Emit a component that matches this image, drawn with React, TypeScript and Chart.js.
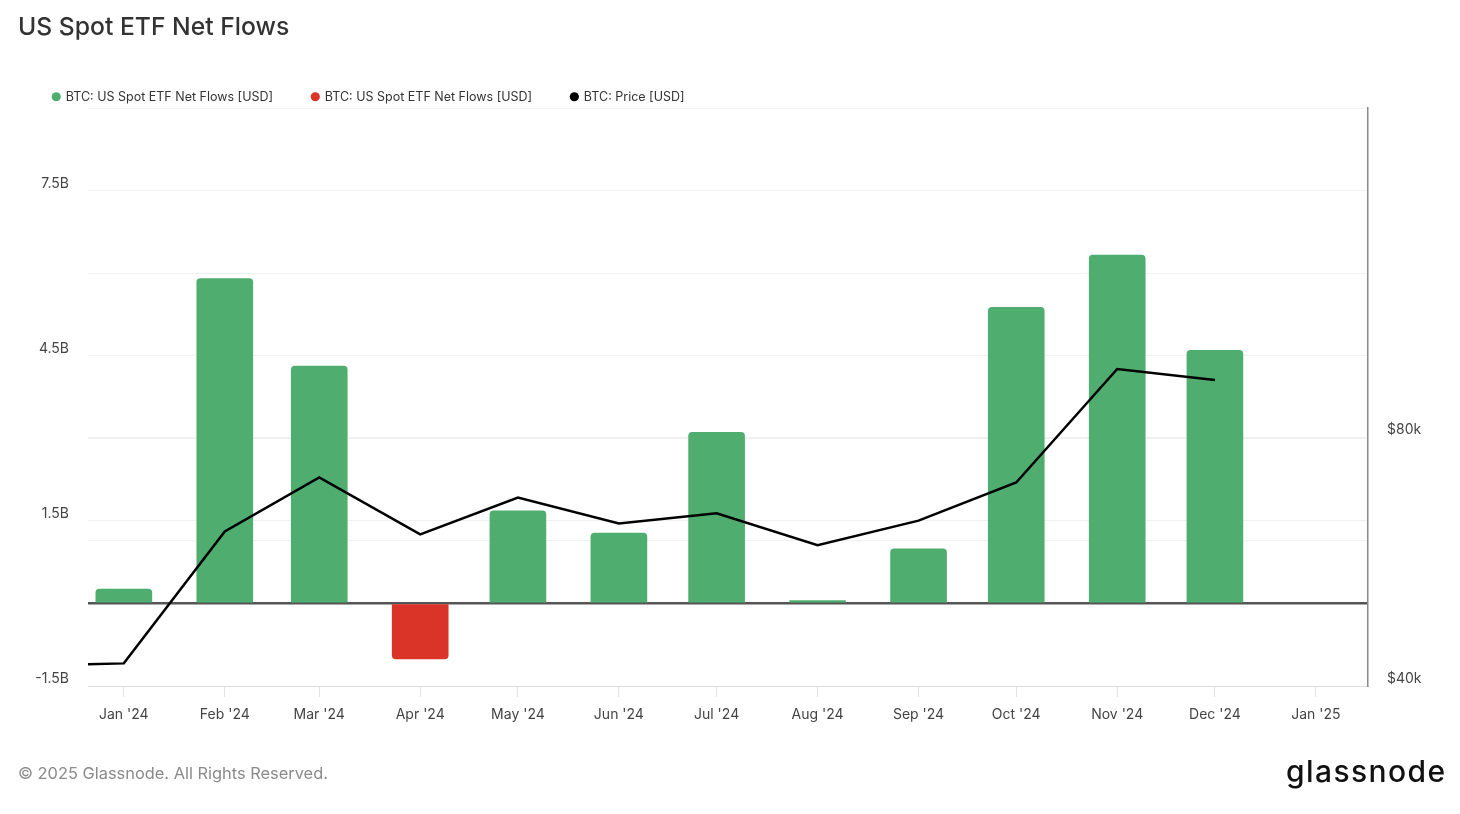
import React, { useEffect, useRef } from 'react';
import { Chart, registerables } from 'chart.js';

Chart.register(...registerables);

const FONT = 'Inter, "Noto Sans", "DejaVu Sans", sans-serif';
const GREEN = '#4fae6f';
const RED = '#d93427';

// Monthly net flows (billions USD), one bar per month
const flowMonths = [
  '2024-01-01', '2024-02-01', '2024-03-01', '2024-04-01', '2024-05-01', '2024-06-01',
  '2024-07-01', '2024-08-01', '2024-09-01', '2024-10-01', '2024-11-01', '2024-12-01',
];
const netFlowsB = [0.26, 5.9, 4.31, -1.01, 1.68, 1.28, 3.11, 0.05, 0.99, 5.38, 6.33, 4.6];

// BTC price (USD), monthly
const priceMonths = [
  '2023-12-01', '2024-01-01', '2024-02-01', '2024-03-01', '2024-04-01', '2024-05-01', '2024-06-01',
  '2024-07-01', '2024-08-01', '2024-09-01', '2024-10-01', '2024-11-01', '2024-12-01',
];
const priceUSD = [42300, 42600, 61500, 71500, 61000, 67600, 62900, 64700, 59200, 63400, 70500, 96700, 93800];

// X axis ticks
const tickDates = [
  '2024-01-01', '2024-02-01', '2024-03-01', '2024-04-01', '2024-05-01', '2024-06-01', '2024-07-01',
  '2024-08-01', '2024-09-01', '2024-10-01', '2024-11-01', '2024-12-01', '2025-01-01',
];
const tickLabels = [
  "Jan '24", "Feb '24", "Mar '24", "Apr '24", "May '24", "Jun '24", "Jul '24",
  "Aug '24", "Sep '24", "Oct '24", "Nov '24", "Dec '24", "Jan '25",
];
const xRange = ['2023-12-21', '2025-01-17'];

// Right (price) axis ticks
const priceTicks = [40000, 60000, 80000];
const priceTickLabels = ['$40k', '', '$80k'];

const flowLabel = 'BTC: US Spot ETF Net Flows [USD]';
const priceLabel = 'BTC: Price [USD]';

function dayIndex(iso: string): number {
  const [y, m, d] = iso.split('-').map(Number);
  return (Date.UTC(y, m - 1, d) - Date.UTC(2024, 0, 1)) / 86400000;
}

function fmtB(v: number): string {
  return `${Math.round((v / 1e9) * 10) / 10}B`;
}

export default function App() {
  const ref = useRef<HTMLCanvasElement>(null);

  useEffect(() => {
    document.body.style.margin = '0';
    document.body.style.overflow = 'hidden';
    if (!ref.current) return;

    const greenData = flowMonths
      .map((m, i) => ({ x: dayIndex(m), y: netFlowsB[i] * 1e9 }))
      .filter((p) => p.y >= 0);
    const redData = flowMonths
      .map((m, i) => ({ x: dayIndex(m), y: netFlowsB[i] * 1e9 }))
      .filter((p) => p.y < 0);
    const priceData = priceMonths.map((m, i) => ({ x: dayIndex(m), y: priceUSD[i] }));
    const tickDays = tickDates.map(dayIndex);

    const chart = new Chart(ref.current, {
      type: 'bar',
      data: {
        datasets: [
          {
            type: 'bar',
            label: flowLabel,
            data: greenData,
            backgroundColor: GREEN,
            borderWidth: 0,
            borderRadius: 4,
            barThickness: 56,
            grouped: false,
            yAxisID: 'y',
            xAxisID: 'x',
            order: 1,
          },
          {
            type: 'bar',
            label: flowLabel,
            data: redData,
            backgroundColor: RED,
            borderWidth: 0,
            borderRadius: 4,
            barThickness: 56,
            grouped: false,
            yAxisID: 'y',
            xAxisID: 'x',
            order: 1,
          },
          {
            type: 'line',
            label: priceLabel,
            data: priceData,
            borderColor: '#000000',
            backgroundColor: '#000000',
            borderWidth: 2.5,
            pointRadius: 0,
            tension: 0,
            yAxisID: 'y1',
            xAxisID: 'x',
            order: 0,
          },
        ],
      } as any,
      options: {
        animation: false,
        responsive: false,
        maintainAspectRatio: false,
        layout: { padding: { top: 51.5, left: 14, right: 0, bottom: 88 } },
        plugins: {
          legend: {
            position: 'top',
            align: 'start',
            maxHeight: 56.5,
            onClick: () => {},
            labels: {
              usePointStyle: true,
              pointStyle: 'circle',
              boxWidth: 6.5,
              boxHeight: 6.5,
              padding: 39,
              color: '#333333',
              font: { family: FONT, size: 12.5 },
              sort: (a: any, b: any) => a.datasetIndex - b.datasetIndex,
              generateLabels: (ch: any) => {
                const items = Chart.defaults.plugins.legend.labels.generateLabels(ch);
                return items.map((it: any) => ({ ...it, lineWidth: 0, strokeStyle: it.fillStyle }));
              },
            },
          } as any,
          tooltip: { enabled: false },
          title: { display: false },
        },
        scales: {
          x: {
            type: 'linear',
            min: dayIndex(xRange[0]),
            max: dayIndex(xRange[1]),
            offset: false,
            afterBuildTicks: (s: any) => {
              s.ticks = tickDays.map((v) => ({ value: v }));
            },
            afterFit: (s: any) => {
              s.height = 40;
            },
            ticks: {
              autoSkip: false,
              maxRotation: 0,
              minRotation: 0,
              padding: 9,
              color: '#444444',
              font: { family: FONT, size: 14 },
              callback: (v: any) => {
                const i = tickDays.indexOf(Number(v));
                return i >= 0 ? tickLabels[i] : '';
              },
            },
            grid: { drawOnChartArea: false, offset: false, tickLength: 11, color: '#e3e3e3' },
            border: { color: '#dddddd' },
          },
          y: {
            position: 'left',
            min: -1.5e9,
            max: 9e9,
            afterFit: (s: any) => {
              s.width = 74;
            },
            ticks: {
              stepSize: 1.5e9,
              padding: 19,
              labelOffset: -7,
              color: '#444444',
              font: { family: FONT, size: 14 },
              callback: (v: any, i: number) => (i % 2 === 0 ? fmtB(Number(v)) : ''),
            },
            grid: {
              drawTicks: false,
              color: (c: any) => (Math.abs(c.tick?.value ?? 1) < 1 ? '#555555' : '#f0f0f0'),
              lineWidth: (c: any) => (Math.abs(c.tick?.value ?? 1) < 1 ? 2.5 : 1),
            },
            border: { display: false },
          },
          y1: {
            type: 'logarithmic',
            position: 'right',
            min: 40000,
            max: 200000,
            afterBuildTicks: (s: any) => {
              s.ticks = priceTicks.map((v) => ({ value: v }));
            },
            afterFit: (s: any) => {
              s.width = 92;
            },
            ticks: {
              padding: 19,
              labelOffset: -7,
              color: '#444444',
              font: { family: FONT, size: 14 },
              callback: (v: any) => {
                const i = priceTicks.indexOf(Number(v));
                return i >= 0 ? priceTickLabels[i] : '';
              },
            },
            grid: { drawTicks: false, color: '#f0f0f0' },
            border: { color: '#8a8a8a', width: 1.5 },
          },
        },
      } as any,
    });
    return () => chart.destroy();
  }, []);

  return (
    <div style={{ position: 'relative', width: 1460, height: 814, overflow: 'hidden', background: '#ffffff' }}>
      <canvas ref={ref} width={1460} height={814} style={{ position: 'absolute', left: 0, top: 0, width: 1460, height: 814 }} />
      <div
        style={{
          position: 'absolute', left: 18, top: 14, fontFamily: FONT, fontSize: 24.7, lineHeight: '24px',
          fontWeight: 500, color: '#333333', whiteSpace: 'nowrap',
        }}
      >
        US Spot ETF Net Flows
      </div>
      <div
        style={{
          position: 'absolute', left: 18, top: 765, fontFamily: FONT, fontSize: 16.4, lineHeight: '16px',
          color: '#8a8a8a', whiteSpace: 'nowrap',
        }}
      >
        © 2025 Glassnode. All Rights Reserved.
      </div>
      <div
        style={{
          position: 'absolute', left: 1286, top: 756, fontFamily: FONT, fontSize: 30, lineHeight: '30px',
          fontWeight: 500, color: '#111111', letterSpacing: 1.4, whiteSpace: 'nowrap',
        }}
      >
        glassnode
      </div>
    </div>
  );
}
